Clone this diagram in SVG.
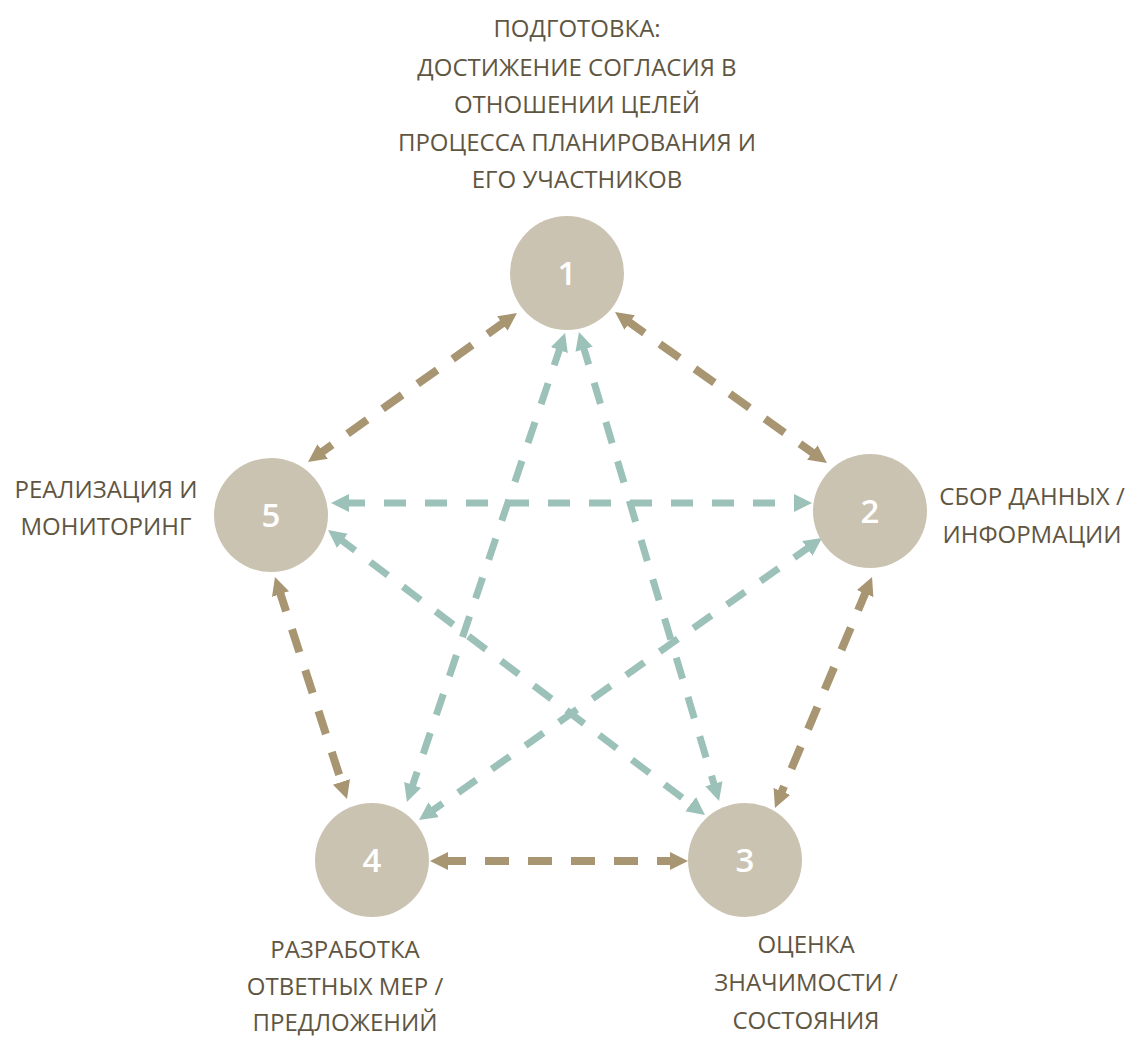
<svg xmlns="http://www.w3.org/2000/svg" width="1130" height="1039" viewBox="0 0 1130 1039">
<style>
.lbl{font-family:"Open Sans","Noto Sans","DejaVu Sans",sans-serif;font-size:24px;fill:#5f5642;text-anchor:middle}
.node circle{fill:#cbc3b1}
.num{font-family:"Open Sans","Noto Sans",sans-serif;font-size:33px;font-weight:600;fill:#ffffff;text-anchor:middle}
.b{stroke:#a89572;stroke-width:8;stroke-dasharray:24 19;fill:none;marker-start:url(#ab);marker-end:url(#ab)}
.t{stroke:#9bc1b8;stroke-width:7;stroke-dasharray:22 19;fill:none;marker-start:url(#at);marker-end:url(#at)}
</style>
<defs>
<marker id="ab" viewBox="0 0 18 18" refX="6" refY="9" markerWidth="18" markerHeight="18" markerUnits="userSpaceOnUse" orient="auto-start-reverse">
<path d="M0,0 L18,9 L0,18 z" fill="#a89572"/>
</marker>
<marker id="at" viewBox="0 0 18 18" refX="6" refY="9" markerWidth="18" markerHeight="18" markerUnits="userSpaceOnUse" orient="auto-start-reverse">
<path d="M0,0 L18,9 L0,18 z" fill="#9bc1b8"/>
</marker>
</defs>
<rect width="1130" height="1039" fill="#ffffff"/>
<g id="connectors">
<line class="b" x1="624.8" y1="319" x2="817.2" y2="456"/>
<line class="b" x1="507.2" y1="320" x2="317.8" y2="455"/>
<line class="b" x1="278.7" y1="588.4" x2="343.3" y2="787.6"/>
<line class="b" x1="867.4" y1="588.1" x2="779.6" y2="796.9"/>
<line class="b" x1="442" y1="861" x2="676" y2="861"/>
<line class="t" x1="343" y1="503" x2="800" y2="503"/>
<line class="t" x1="337.6" y1="537.2" x2="695.4" y2="807.8"/>
<line class="t" x1="561.2" y1="344.4" x2="410.8" y2="790.6"/>
<line class="t" x1="582.4" y1="343.5" x2="715.6" y2="789.5"/>
<line class="t" x1="812.2" y1="544.9" x2="428.8" y2="813.1"/>
</g>
<g id="node1" class="node">
<circle cx="567" cy="273" r="57"/>
<text class="num" x="567" y="285">1</text>
<text class="lbl" x="577" y="37">ПОДГОТОВКА:</text>
<text class="lbl" x="577" y="76">ДОСТИЖЕНИЕ СОГЛАСИЯ В</text>
<text class="lbl" x="577" y="113">ОТНОШЕНИИ ЦЕЛЕЙ</text>
<text class="lbl" x="577" y="151">ПРОЦЕССА ПЛАНИРОВАНИЯ И</text>
<text class="lbl" x="577" y="188">ЕГО УЧАСТНИКОВ</text>
</g>
<g id="node2" class="node">
<circle cx="870" cy="511" r="57"/>
<text class="num" x="870" y="523">2</text>
<text class="lbl" x="1032" y="505">СБОР ДАННЫХ /</text>
<text class="lbl" x="1032" y="543">ИНФОРМАЦИИ</text>
</g>
<g id="node3" class="node">
<circle cx="745" cy="860" r="57"/>
<text class="num" x="745" y="872">3</text>
<text class="lbl" x="806" y="953">ОЦЕНКА</text>
<text class="lbl" x="806" y="991">ЗНАЧИМОСТИ /</text>
<text class="lbl" x="806" y="1029">СОСТОЯНИЯ</text>
</g>
<g id="node4" class="node">
<circle cx="372" cy="860" r="57"/>
<text class="num" x="372" y="872">4</text>
<text class="lbl" x="345" y="958">РАЗРАБОТКА</text>
<text class="lbl" x="345" y="995">ОТВЕТНЫХ МЕР /</text>
<text class="lbl" x="345" y="1031">ПРЕДЛОЖЕНИЙ</text>
</g>
<g id="node5" class="node">
<circle cx="271" cy="515" r="57"/>
<text class="num" x="271" y="527">5</text>
<text class="lbl" x="106" y="498">РЕАЛИЗАЦИЯ И</text>
<text class="lbl" x="106" y="535">МОНИТОРИНГ</text>
</g>
</svg>
